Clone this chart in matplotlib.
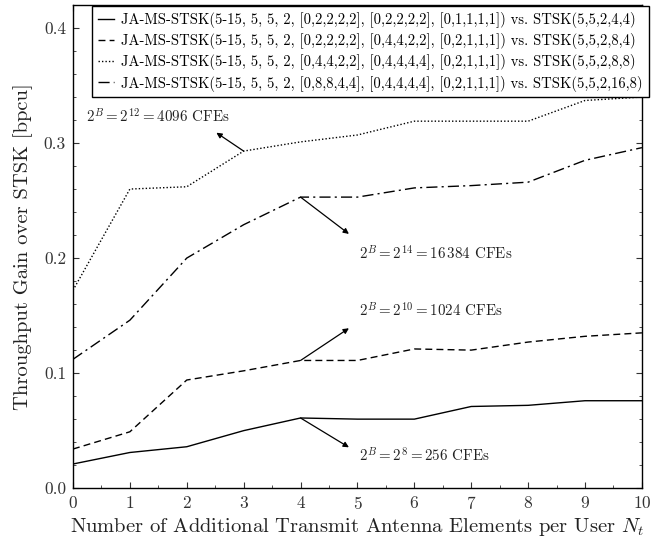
import numpy as np
import matplotlib
matplotlib.use('Agg')
import matplotlib.pyplot as plt
from matplotlib.ticker import MultipleLocator, FormatStrFormatter

plt.rcParams['font.family'] = ['cmr10', 'DejaVu Serif']
plt.rcParams['mathtext.fontset'] = 'cm'
plt.rcParams['axes.formatter.use_mathtext'] = True

nt = np.arange(0, 11)

# throughput gain [bpcu]
gain_256 = [0.021, 0.031, 0.036, 0.050, 0.061, 0.060, 0.060, 0.071, 0.072, 0.076, 0.076]
gain_1024 = [0.034, 0.049, 0.094, 0.102, 0.111, 0.111, 0.121, 0.120, 0.127, 0.132, 0.135]
gain_4096 = [0.172, 0.260, 0.262, 0.293, 0.301, 0.307, 0.319, 0.319, 0.319, 0.337, 0.340]
gain_16384 = [0.112, 0.146, 0.200, 0.229, 0.253, 0.253, 0.261, 0.263, 0.266, 0.285, 0.296]

labels = [
    'JA-MS-STSK(5-15, 5, 5, 2, [0,2,2,2,2], [0,2,2,2,2], [0,1,1,1,1]) vs. STSK(5,5,2,4,4)',
    'JA-MS-STSK(5-15, 5, 5, 2, [0,2,2,2,2], [0,4,4,2,2], [0,2,1,1,1]) vs. STSK(5,5,2,8,4)',
    'JA-MS-STSK(5-15, 5, 5, 2, [0,4,4,2,2], [0,4,4,4,4], [0,2,1,1,1]) vs. STSK(5,5,2,8,8)',
    'JA-MS-STSK(5-15, 5, 5, 2, [0,8,8,4,4], [0,4,4,4,4], [0,2,1,1,1]) vs. STSK(5,5,2,16,8)',
]

fig = plt.figure(figsize=(6.67, 5.43), dpi=100)
ax = fig.add_axes([0.1094, 0.1010, 0.853, 0.8898])

lw = 1.0
ax.plot(nt, gain_256, color='black', lw=lw, linestyle='-', label=labels[0])
ax.plot(nt, gain_1024, color='black', lw=lw, linestyle=(0, (5, 3)), label=labels[1])
ax.plot(nt, gain_4096, color='black', lw=lw, linestyle=(0, (1, 1.5)), label=labels[2])
ax.plot(nt, gain_16384, color='black', lw=lw, linestyle=(0, (8, 3, 1.5, 3)), label=labels[3])

ax.set_xlim(0, 10)
ax.set_ylim(0, 0.42)
ax.xaxis.set_major_locator(MultipleLocator(1))
ax.xaxis.set_minor_locator(MultipleLocator(0.5))
ax.yaxis.set_major_locator(MultipleLocator(0.1))
ax.yaxis.set_minor_locator(MultipleLocator(0.02))
ax.yaxis.set_major_formatter(FormatStrFormatter('%.1f'))
ax.tick_params(which='both', direction='in', top=True, right=True, labelsize=12.5, colors='#333333')
ax.tick_params(which='major', length=4, pad=5)
ax.tick_params(which='minor', length=2)
for s in ax.spines.values():
    s.set_linewidth(1.0)

ax.set_xlabel('Number of Additional Transmit Antenna Elements per User $N_t$', fontsize=14.8,
              color='#222222', labelpad=2.5)
ax.set_ylabel('Throughput Gain over STSK [bpcu]', fontsize=14.8, color='#222222', labelpad=8)

arrow = dict(arrowstyle='-|>', color='black', lw=0.9, mutation_scale=8, shrinkA=0, shrinkB=0)
ann = dict(fontsize=10.8, color='#222222', va='center')
ax.annotate('', xy=(2.52, 0.309), xytext=(3, gain_4096[3]), arrowprops=arrow)
ax.text(1.5, 0.323, '$2^B = 2^{12} = 4096$ CFEs', ha='center', **ann)
ax.annotate('', xy=(4.85, 0.221), xytext=(4, gain_16384[4]), arrowprops=arrow)
ax.text(5.03, 0.2035, '$2^B = 2^{14} = 16\\,384$ CFEs', ha='left', **ann)
ax.annotate('', xy=(4.85, 0.139), xytext=(4, gain_1024[4]), arrowprops=arrow)
ax.text(5.03, 0.154, '$2^B = 2^{10} = 1024$ CFEs', ha='left', **ann)
ax.annotate('', xy=(4.85, 0.0355), xytext=(4, gain_256[4]), arrowprops=arrow)
ax.text(5.03, 0.0286, '$2^B = 2^{8} = 256$ CFEs', ha='left', **ann)

leg = ax.legend(loc='upper right', bbox_to_anchor=(1.012, 0.997), fontsize=10.5,
                handlelength=1.1, handletextpad=0.5, fancybox=False, edgecolor='black',
                framealpha=1, borderpad=0.4, labelspacing=0.35, borderaxespad=0)
leg.get_frame().set_linewidth(1.0)

plt.savefig('out.png', dpi=100)
